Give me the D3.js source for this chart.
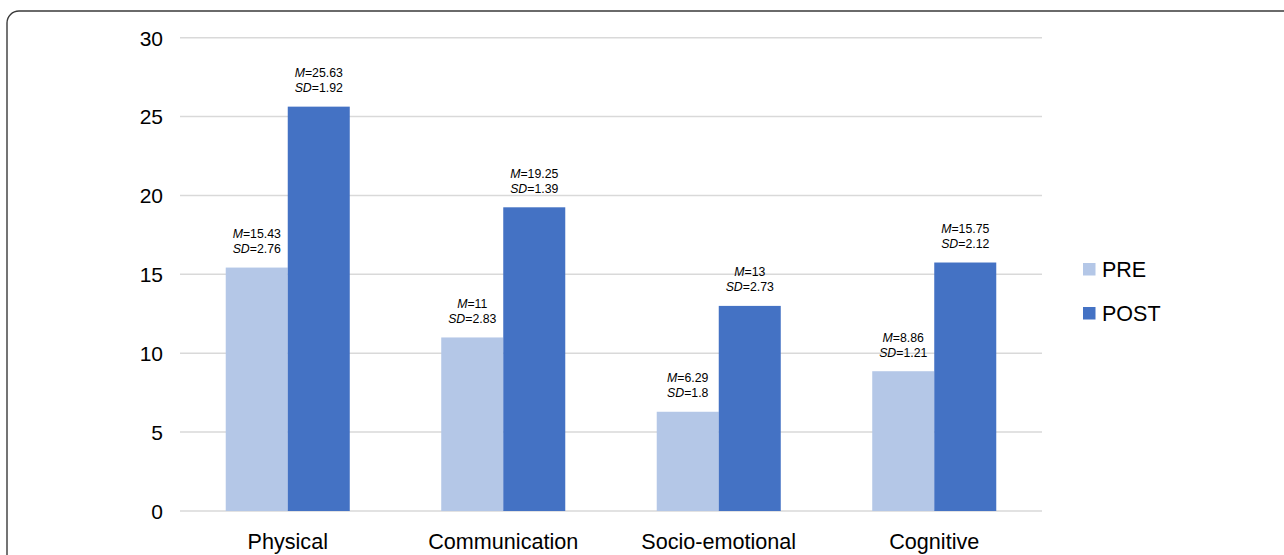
<!DOCTYPE html>
<html>
<head>
<meta charset="utf-8">
<script src="https://cdn.jsdelivr.net/npm/d3@7"></script>
<style>
  html, body { margin: 0; padding: 0; background: #fff; }
  svg { display: block; font-family: "Liberation Sans", Arial, sans-serif; }
</style>
</head>
<body>
<svg id="chart" width="1284" height="555"></svg>
<script>
// Domain scores before and after the intervention
const categories = ["Physical", "Communication", "Socio-emotional", "Cognitive"];
const seriesNames = ["PRE", "POST"];
const preMeans = [15.43, 11, 6.29, 8.86];
const postMeans = [25.63, 19.25, 13, 15.75];
const preSD = [2.76, 2.83, 1.8, 1.21];
const postSD = [1.92, 1.39, 2.73, 2.12];
const yTicks = [0, 5, 10, 15, 20, 25, 30];

const colors = { PRE: "#b4c7e7", POST: "#4472c4" };

const rows = categories.map((c, i) => ({
  category: c,
  values: [
    { series: "PRE", mean: preMeans[i], sd: preSD[i] },
    { series: "POST", mean: postMeans[i], sd: postSD[i] }
  ]
}));

const svg = d3.select("#chart");
const margin = { left: 180, right: 242, top: 37.7, bottom: 44 };
const W = 1284, H = 555;

// outer frame with rounded corner
svg.append("rect")
  .attr("x", 7).attr("y", 11)
  .attr("width", 1400).attr("height", 700)
  .attr("rx", 12).attr("ry", 12)
  .attr("fill", "none")
  .attr("stroke", "#3a3a3a")
  .attr("stroke-width", 1.4);

const x0 = d3.scaleBand()
  .domain(categories)
  .range([margin.left, W - margin.right])
  .paddingInner(0.4245)
  .paddingOuter(0.21225);

const x1 = d3.scaleBand()
  .domain(seriesNames)
  .range([0, x0.bandwidth()])
  .padding(0);

const y = d3.scaleLinear()
  .domain([0, 30])
  .range([511, margin.top]);

// horizontal gridlines
svg.append("g")
  .selectAll("line")
  .data(yTicks)
  .join("line")
  .attr("x1", margin.left)
  .attr("x2", W - margin.right)
  .attr("y1", d => y(d))
  .attr("y2", d => y(d))
  .attr("stroke", "#d9d9d9")
  .attr("stroke-width", 1.5);

// y axis labels
const yAxis = d3.axisLeft(y).tickValues(yTicks).tickSize(0).tickPadding(0);
const yg = svg.append("g")
  .attr("transform", `translate(163,0)`)
  .call(yAxis);
yg.select(".domain").remove();
yg.selectAll("text")
  .attr("font-size", 21)
  .attr("font-family", "Liberation Sans, Arial, sans-serif")
  .attr("fill", "#000")
  .attr("dy", "0.35em");

// x axis labels
const xAxis = d3.axisBottom(x0).tickSize(0).tickPadding(0);
const xg = svg.append("g")
  .attr("transform", `translate(0,549)`)
  .call(xAxis);
xg.select(".domain").remove();
xg.selectAll("text")
  .attr("font-size", 21.6)
  .attr("font-family", "Liberation Sans, Arial, sans-serif")
  .attr("fill", "#000")
  .attr("dy", 0);

// bars
const groups = svg.append("g")
  .selectAll("g")
  .data(rows)
  .join("g")
  .attr("transform", d => `translate(${x0(d.category)},0)`);

groups.selectAll("rect")
  .data(d => d.values)
  .join("rect")
  .attr("x", d => x1(d.series))
  .attr("width", x1.bandwidth())
  .attr("y", d => y(d.mean))
  .attr("height", d => y(0) - y(d.mean))
  .attr("fill", d => colors[d.series]);

// value labels: M and SD above each bar
const labels = groups.selectAll("g.lbl")
  .data(d => d.values)
  .join("g")
  .attr("class", "lbl")
  .attr("transform", d => `translate(${x1(d.series) + x1.bandwidth() / 2},${y(d.mean)})`);

const mLine = labels.append("text")
  .attr("text-anchor", "middle")
  .attr("y", -29.5)
  .attr("font-size", 12.3)
  .attr("fill", "#000");
mLine.append("tspan").attr("font-style", "italic").text("M");
mLine.append("tspan").text(d => "=" + d.mean);

const sdLine = labels.append("text")
  .attr("text-anchor", "middle")
  .attr("y", -14.5)
  .attr("font-size", 12.3)
  .attr("fill", "#000");
sdLine.append("tspan").attr("font-style", "italic").text("SD");
sdLine.append("tspan").text(d => "=" + d.sd);

// legend
const legend = svg.append("g")
  .selectAll("g")
  .data(seriesNames)
  .join("g")
  .attr("transform", (d, i) => `translate(1083,${263 + i * 44})`);

legend.append("rect")
  .attr("width", 12.5)
  .attr("height", 12.5)
  .attr("fill", d => colors[d]);

legend.append("text")
  .attr("x", 19)
  .attr("y", 14)
  .attr("font-size", 21.5)
  .attr("fill", "#000")
  .text(d => d);
</script>
</body>
</html>
